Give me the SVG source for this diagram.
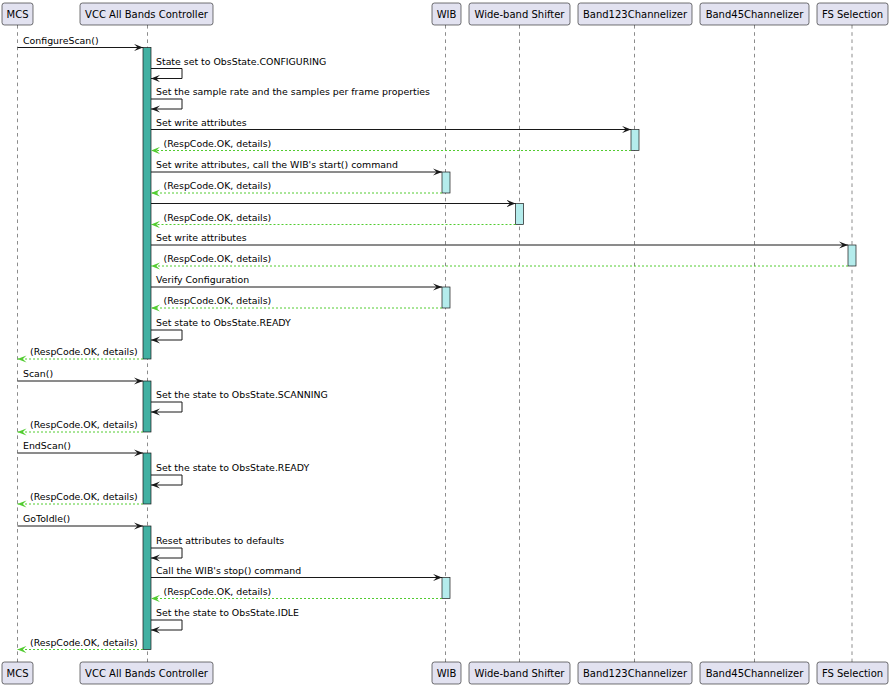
<svg xmlns="http://www.w3.org/2000/svg" width="891" height="688" viewBox="0 0 891 688">
<style>
.box{fill:#E2E2F0;stroke:#181818;stroke-width:0.6}
.pl{font-family:"DejaVu Sans",sans-serif;font-size:10px;fill:#000;text-anchor:middle}
.life{stroke:#181818;stroke-width:0.5;stroke-dasharray:3.6 3.6;fill:none}
.actA{fill:#42B0A2;stroke:#181818;stroke-width:0.7}
.actB{fill:#B4ECEC;stroke:#181818;stroke-width:0.7}
.msg{stroke:#181818;stroke-width:1;fill:none;marker-end:url(#ah)}
.ret{stroke:#52CC30;stroke-width:1;stroke-dasharray:2 2;fill:none;marker-end:url(#ahg)}
.t{font-family:"DejaVu Sans",sans-serif;font-size:9.4px;fill:#000}
</style>
<defs>
<marker id="ah" viewBox="0 0 9 7.2" refX="9" refY="3.6" markerWidth="9" markerHeight="7.2" markerUnits="userSpaceOnUse" orient="auto">
<path d="M0,0 L9,3.6 L0,7.2 L3.6,3.6 Z" fill="#181818"/>
</marker>
<marker id="ahg" viewBox="0 0 9 7.2" refX="9" refY="3.6" markerWidth="9" markerHeight="7.2" markerUnits="userSpaceOnUse" orient="auto">
<path d="M0,0 L9,3.6 L0,7.2 L3.6,3.6 Z" fill="#52CC30"/>
</marker>
</defs>
<rect width="891" height="688" fill="#FFFFFF"/>

<g id="mcs">
<line class="life" x1="17.5" y1="25" x2="17.5" y2="662"/>
<rect class="box" x="2" y="3" width="31" height="22" rx="2.5"/>
<text class="pl" x="17.5" y="17.5">MCS</text>
<rect class="box" x="2" y="662" width="31" height="22" rx="2.5"/>
<text class="pl" x="17.5" y="676.5">MCS</text>
</g>
<g id="vcc">
<line class="life" x1="147.5" y1="25" x2="147.5" y2="662"/>
<rect class="box" x="80" y="3" width="133" height="22" rx="2.5"/>
<text class="pl" x="146.5" y="17.5">VCC All Bands Controller</text>
<rect class="box" x="80" y="662" width="133" height="22" rx="2.5"/>
<text class="pl" x="146.5" y="676.5">VCC All Bands Controller</text>
<rect class="actA" x="143" y="47.5" width="8" height="311.5"/>
<rect class="actA" x="143" y="381" width="8" height="51"/>
<rect class="actA" x="143" y="453" width="8" height="51"/>
<rect class="actA" x="143" y="526" width="8" height="123.5"/>
</g>
<g id="wib">
<line class="life" x1="445.5" y1="25" x2="445.5" y2="662"/>
<rect class="box" x="432" y="3" width="29" height="22" rx="2.5"/>
<text class="pl" x="446.5" y="17.5">WIB</text>
<rect class="box" x="432" y="662" width="29" height="22" rx="2.5"/>
<text class="pl" x="446.5" y="676.5">WIB</text>
<rect class="actB" x="442" y="172" width="8" height="21"/>
<rect class="actB" x="442" y="287" width="8" height="21"/>
<rect class="actB" x="442" y="577.5" width="8" height="21"/>
</g>
<g id="wbs">
<line class="life" x1="519.5" y1="25" x2="519.5" y2="662"/>
<rect class="box" x="469" y="3" width="101" height="22" rx="2.5"/>
<text class="pl" x="519.5" y="17.5">Wide-band Shifter</text>
<rect class="box" x="469" y="662" width="101" height="22" rx="2.5"/>
<text class="pl" x="519.5" y="676.5">Wide-band Shifter</text>
<rect class="actB" x="515.5" y="203.5" width="8" height="21"/>
</g>
<g id="b123">
<line class="life" x1="634.5" y1="25" x2="634.5" y2="662"/>
<rect class="box" x="578" y="3" width="114" height="22" rx="2.5"/>
<text class="pl" x="635" y="17.5">Band123Channelizer</text>
<rect class="box" x="578" y="662" width="114" height="22" rx="2.5"/>
<text class="pl" x="635" y="676.5">Band123Channelizer</text>
<rect class="actB" x="631" y="129.5" width="8" height="21"/>
</g>
<g id="b45">
<line class="life" x1="754.5" y1="25" x2="754.5" y2="662"/>
<rect class="box" x="700" y="3" width="109" height="22" rx="2.5"/>
<text class="pl" x="754.5" y="17.5">Band45Channelizer</text>
<rect class="box" x="700" y="662" width="109" height="22" rx="2.5"/>
<text class="pl" x="754.5" y="676.5">Band45Channelizer</text>
</g>
<g id="fs">
<line class="life" x1="852" y1="25" x2="852" y2="662"/>
<rect class="box" x="817" y="3" width="71" height="22" rx="2.5"/>
<text class="pl" x="852.5" y="17.5">FS Selection</text>
<rect class="box" x="817" y="662" width="71" height="22" rx="2.5"/>
<text class="pl" x="852.5" y="676.5">FS Selection</text>
<rect class="actB" x="848" y="245" width="8" height="21"/>
</g>

<g id="connectors">
<line class="msg" x1="17.5" y1="47.5" x2="143" y2="47.5"/>
<polyline class="msg" points="151,68.5 182,68.5 182,78.5 151,78.5"/>
<polyline class="msg" points="151,99 182,99 182,109 151,109"/>
<line class="msg" x1="151" y1="129.5" x2="631" y2="129.5"/>
<line class="ret" x1="631" y1="150.5" x2="151" y2="150.5"/>
<line class="msg" x1="151" y1="172" x2="442" y2="172"/>
<line class="ret" x1="442" y1="193" x2="151" y2="193"/>
<line class="msg" x1="151" y1="203.5" x2="515.5" y2="203.5"/>
<line class="ret" x1="515.5" y1="224.5" x2="151" y2="224.5"/>
<line class="msg" x1="151" y1="245" x2="848" y2="245"/>
<line class="ret" x1="848" y1="266" x2="151" y2="266"/>
<line class="msg" x1="151" y1="287" x2="442" y2="287"/>
<line class="ret" x1="442" y1="308" x2="151" y2="308"/>
<polyline class="msg" points="151,330 182,330 182,340 151,340"/>
<line class="ret" x1="143" y1="359" x2="17.5" y2="359"/>
<line class="msg" x1="17.5" y1="381" x2="143" y2="381"/>
<polyline class="msg" points="151,402 182,402 182,412 151,412"/>
<line class="ret" x1="143" y1="432" x2="17.5" y2="432"/>
<line class="msg" x1="17.5" y1="453" x2="143" y2="453"/>
<polyline class="msg" points="151,475 182,475 182,485 151,485"/>
<line class="ret" x1="143" y1="504" x2="17.5" y2="504"/>
<line class="msg" x1="17.5" y1="526" x2="143" y2="526"/>
<polyline class="msg" points="151,548 182,548 182,558 151,558"/>
<line class="msg" x1="151" y1="577.5" x2="442" y2="577.5"/>
<line class="ret" x1="442" y1="598.5" x2="151" y2="598.5"/>
<polyline class="msg" points="151,620 182,620 182,630 151,630"/>
<line class="ret" x1="143" y1="649.5" x2="17.5" y2="649.5"/>
</g>

<g id="labels">
<text class="t" x="23" y="43.5">ConfigureScan()</text>
<text class="t" x="156" y="64.5">State set to ObsState.CONFIGURING</text>
<text class="t" x="156" y="95">Set the sample rate and the samples per frame properties</text>
<text class="t" x="156" y="125.5">Set write attributes</text>
<text class="t" x="163.5" y="146.5">(RespCode.OK, details)</text>
<text class="t" x="156" y="168">Set write attributes, call the WIB's start() command</text>
<text class="t" x="163.5" y="189">(RespCode.OK, details)</text>
<text class="t" x="163.5" y="220.5">(RespCode.OK, details)</text>
<text class="t" x="156" y="241">Set write attributes</text>
<text class="t" x="163.5" y="262">(RespCode.OK, details)</text>
<text class="t" x="156" y="283">Verify Configuration</text>
<text class="t" x="163.5" y="304">(RespCode.OK, details)</text>
<text class="t" x="156" y="326">Set state to ObsState.READY</text>
<text class="t" x="30" y="355">(RespCode.OK, details)</text>
<text class="t" x="23" y="377">Scan()</text>
<text class="t" x="156" y="398">Set the state to ObsState.SCANNING</text>
<text class="t" x="30" y="428">(RespCode.OK, details)</text>
<text class="t" x="23" y="449">EndScan()</text>
<text class="t" x="156" y="471">Set the state to ObsState.READY</text>
<text class="t" x="30" y="500">(RespCode.OK, details)</text>
<text class="t" x="23" y="522">GoToIdle()</text>
<text class="t" x="156" y="544">Reset attributes to defaults</text>
<text class="t" x="156" y="573.5">Call the WIB's stop() command</text>
<text class="t" x="163.5" y="594.5">(RespCode.OK, details)</text>
<text class="t" x="156" y="616">Set the state to ObsState.IDLE</text>
<text class="t" x="30" y="645.5">(RespCode.OK, details)</text>
</g>
</svg>
